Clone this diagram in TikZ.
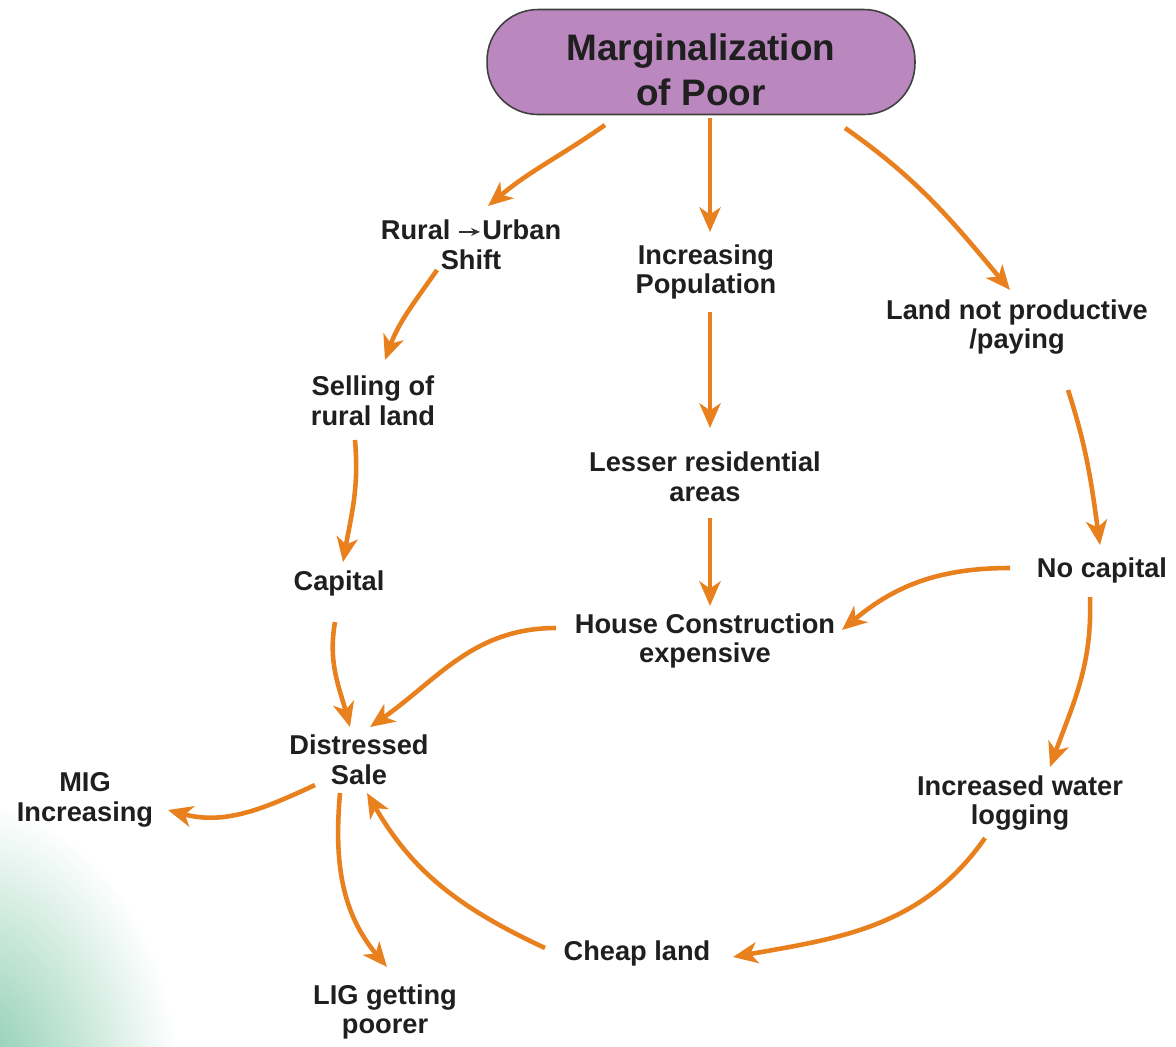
\documentclass[tikz,border=0pt]{standalone}
\usepackage{fontspec}
\setmainfont{Liberation Sans}
\usepackage{tikz}
\usetikzlibrary{positioning,arrows.meta,shapes}

\definecolor{flowarrow}{RGB}{232,128,30}
\definecolor{rootfill}{RGB}{186,135,190}
\definecolor{glow}{RGB}{125,198,168}

% small arrow inside the Rural/Urban label
\newcommand{\shiftarrow}{\tikz[baseline=-4.5pt]\draw[-{Stealth[length=5pt,width=4.5pt]}, line width=0.9pt, black!80] (0pt,0pt) -- (12pt,0pt);}

\begin{document}
\begin{tikzpicture}[x=0.02cm, y=0.02cm,
    lbl/.style={align=center, font=\fontsize{15.5}{17}\selectfont\bfseries, text=black!88, inner sep=1pt},
    root/.style={rounded corners=29pt, draw=black!75, line width=0.9pt, fill=rootfill, align=center,
        font=\fontsize{21}{26}\selectfont\bfseries, text=black!88, minimum width=8.56cm, minimum height=2.1cm},
    flow/.style={draw=flowarrow, line width=2.6pt, -{Stealth[length=14pt,width=12pt,inset=4pt]}}]

    % Background
    \useasboundingbox (0,0) rectangle (1176,-1046);
    \fill[white] (0,0) rectangle (1176,-1046);
    \begin{scope}
        \clip (0,0) rectangle (1176,-1046);
        \shade[inner color=glow, outer color=white] (-40,-1090) ellipse (220 and 290);
    \end{scope}

    % Labels
    \node[root] (poor) at (701,-62) {\rule{0pt}{24pt}Marginalization\\of Poor};
    \node[lbl] (rural) at (471,-245) {Rural \shiftarrow\hspace{1pt}Urban\\Shift};
    \node[lbl] (population) at (706,-272) {Increasing\\Population};
    \node[lbl] (notpaying) at (1017,-327) {Land not productive\\/paying};
    \node[lbl] (selling) at (373,-401) {Selling of\\rural land};
    \node[lbl] (lesser) at (705,-477) {Lesser residential\\areas};
    \node[lbl] (capital) at (339,-583) {Capital};
    \node[lbl] (nocapital) at (1102,-570) {No capital};
    \node[lbl] (house) at (705,-641) {House Construction\\expensive};
    \node[lbl] (distress) at (359,-760) {Distressed\\Sale};
    \node[lbl] (mig) at (85,-800) {MIG\\Increasing};
    \node[lbl] (waterlog) at (1020,-803) {Increased water\\logging};
    \node[lbl] (cheap) at (637,-953) {Cheap land};
    \node[lbl] (lig) at (385,-1012) {LIG getting\\poorer};

    % Arrows
    \draw[flow] ([shift={(-96,-63)}]poor.center) to[out=215,in=40] ([shift={(17,39)}]rural.center);
    \draw[flow] ([shift={(9,-56)}]poor.center) -- ([shift={(4,40)}]population.center);
    \draw[flow] ([shift={(144,-66)}]poor.center) to[out=-35,in=130] ([shift={(-7,37)}]notpaying.center);
    \draw[flow] ([shift={(-34,-25)}]rural.center) to[out=235,in=70] ([shift={(12,41)}]selling.center);
    \draw[flow] ([shift={(4,-40)}]population.center) -- ([shift={(5,49)}]lesser.center);
    \draw[flow] ([shift={(51,-63)}]notpaying.center) to[out=-72,in=98] ([shift={(-2,25)}]nocapital.center);
    \draw[flow] ([shift={(-18,-39)}]selling.center) to[out=-85,in=80] ([shift={(4,21)}]capital.center);
    \draw[flow] ([shift={(5,-41)}]lesser.center) -- ([shift={(5,35)}]house.center);
    \draw[flow] ([shift={(-92,2)}]nocapital.center) to[out=180,in=40] ([shift={(137,11)}]house.center);
    \draw[flow] ([shift={(-4,-39)}]capital.center) to[out=-100,in=105] ([shift={(-9,33)}]distress.center);
    \draw[flow] ([shift={(-149,13)}]house.center) to[out=180,in=35] ([shift={(11,33)}]distress.center);
    \draw[flow] ([shift={(-12,-27)}]nocapital.center) to[out=-88,in=70] ([shift={(30,36)}]waterlog.center);
    \draw[flow] ([shift={(-44,-25)}]distress.center) to[out=205,in=-15] ([shift={(83,-10)}]mig.center);
    \draw[flow] ([shift={(-19,-33)}]distress.center) to[out=-95,in=130] ([shift={(2,45)}]lig.center);
    \draw[flow] ([shift={(-92,5)}]cheap.center) to[out=155,in=-60] ([shift={(8,-33)}]distress.center);
    \draw[flow] ([shift={(-35,-35)}]waterlog.center) to[out=235,in=10] ([shift={(96,-4)}]cheap.center);
\end{tikzpicture}
\end{document}
